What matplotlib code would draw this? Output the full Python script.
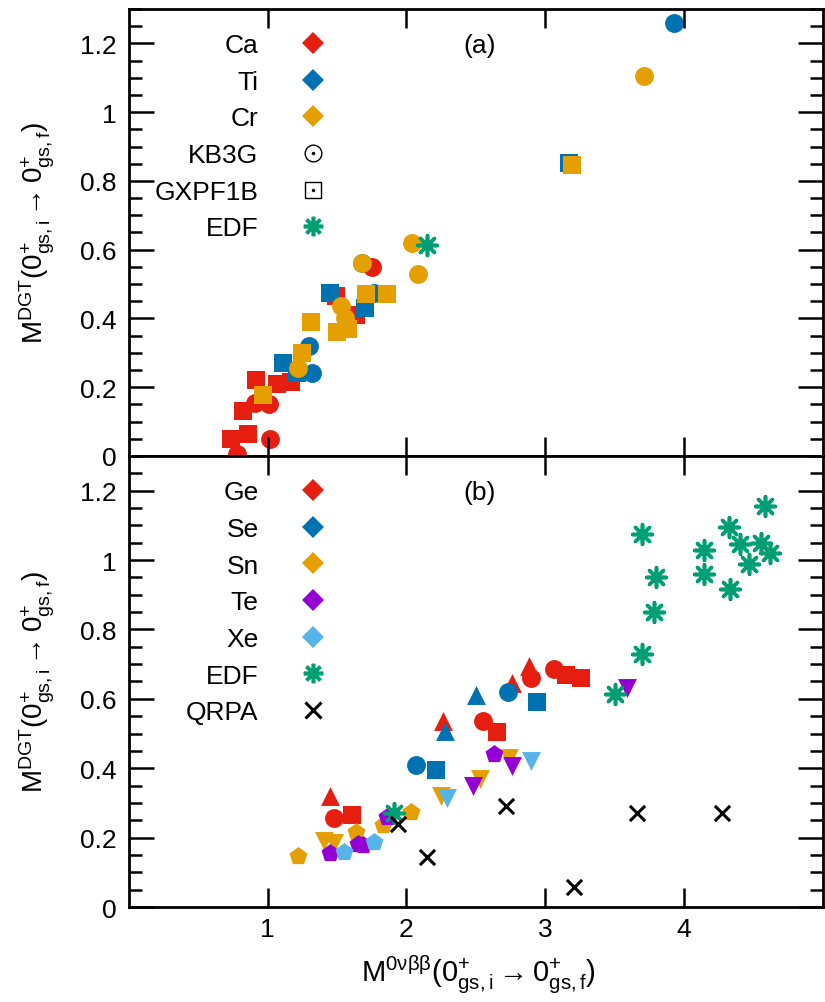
import matplotlib
matplotlib.use("Agg")
import matplotlib.pyplot as plt
from matplotlib.lines import Line2D
from matplotlib.ticker import MultipleLocator, FixedLocator, FuncFormatter

plt.rcParams['font.family'] = ['Liberation Sans', 'DejaVu Sans']
plt.rcParams['mathtext.fontset'] = 'custom'
plt.rcParams['mathtext.rm'] = 'Liberation Sans'
plt.rcParams['mathtext.it'] = 'Liberation Sans:italic'
plt.rcParams['mathtext.bf'] = 'Liberation Sans:bold'
plt.rcParams['mathtext.sf'] = 'Liberation Sans'

red = '#e51e10'
blue = '#0072b2'
orange = '#e69f00'
purple = '#9400d3'
lblue = '#56b4e9'
green = '#009e73'

# ---- panel (a) data ----
ca_kb3g_x = [0.78, 1.02, 0.91, 1.01, 1.75]
ca_kb3g_y = [0.005, 0.05, 0.155, 0.15, 0.55]
ca_gx_x = [0.74, 0.86, 0.82, 0.92, 1.07, 1.17, 1.49, 1.64]
ca_gx_y = [0.05, 0.065, 0.13, 0.22, 0.21, 0.215, 0.465, 0.41]
ti_kb3g_x = [1.30, 1.32, 1.77, 1.68, 3.93]
ti_kb3g_y = [0.32, 0.24, 0.475, 0.56, 1.26]
ti_gx_x = [1.11, 1.21, 1.45, 1.70, 3.17]
ti_gx_y = [0.27, 0.24, 0.475, 0.43, 0.852]
cr_kb3g_x = [1.22, 1.53, 1.56, 1.68, 2.08, 2.04, 3.71]
cr_kb3g_y = [0.255, 0.435, 0.40, 0.56, 0.53, 0.62, 1.105]
cr_gx_x = [0.97, 1.25, 1.31, 1.50, 1.58, 1.71, 1.86, 3.19]
cr_gx_y = [0.177, 0.30, 0.39, 0.36, 0.37, 0.47, 0.47, 0.845]
edf_a_x = [2.15]
edf_a_y = [0.615]

# ---- panel (b) data ----
ge_tri_x = [1.45, 2.26, 2.76, 2.88]
ge_tri_y = [0.32, 0.535, 0.645, 0.695]
ge_circ_x = [1.48, 2.55, 2.90, 3.06]
ge_circ_y = [0.258, 0.535, 0.66, 0.687]
ge_sq_x = [1.61, 2.65, 3.15, 3.26]
ge_sq_y = [0.265, 0.505, 0.67, 0.66]
se_tri_x = [2.28, 2.50]
se_tri_y = [0.507, 0.61]
se_circ_x = [2.07, 2.73]
se_circ_y = [0.41, 0.62]
se_sq_x = [2.21, 2.94]
se_sq_y = [0.395, 0.59]
sn_pent_x = [1.22, 1.64, 1.83, 2.03]
sn_pent_y = [0.148, 0.217, 0.235, 0.275]
sn_tdn_x = [1.41, 1.48, 2.25, 2.53, 2.74]
sn_tdn_y = [0.19, 0.185, 0.32, 0.37, 0.43]
te_pent_x = [1.45, 1.65, 1.69, 1.86, 2.63]
te_pent_y = [0.155, 0.183, 0.18, 0.26, 0.44]
te_tdn_x = [2.48, 2.76, 3.59]
te_tdn_y = [0.35, 0.405, 0.63]
xe_pent_x = [1.55, 1.77]
xe_pent_y = [0.16, 0.188]
xe_tdn_x = [2.29, 2.90]
xe_tdn_y = [0.313, 0.42]
edf_b_x = [3.70, 4.58, 4.32, 4.14, 4.40, 4.55, 4.62, 4.47, 4.14, 4.33, 3.80, 3.78, 3.70, 3.50, 1.91]
edf_b_y = [1.075, 1.157, 1.096, 1.029, 1.047, 1.049, 1.02, 0.988, 0.96, 0.916, 0.95, 0.85, 0.728, 0.615, 0.27]
qrpa_x = [1.94, 2.15, 2.72, 3.66, 4.27, 3.21]
qrpa_y = [0.24, 0.145, 0.29, 0.272, 0.272, 0.058]

S = 185
star = (8, 2, 0)

fig = plt.figure(figsize=(8.25, 10.03), dpi=100)
ax1 = fig.add_axes([0.156, 0.5444, 0.8416, 0.4456])
ax2 = fig.add_axes([0.156, 0.0947, 0.8416, 0.4497])

# panel (a)
ax1.scatter(ca_gx_x, ca_gx_y, marker='s', s=S, color=red, linewidths=0)
ax1.scatter(ca_kb3g_x, ca_kb3g_y, marker='o', s=S, color=red, linewidths=0)
ax1.scatter(ti_gx_x, ti_gx_y, marker='s', s=S, color=blue, linewidths=0)
ax1.scatter(ti_kb3g_x, ti_kb3g_y, marker='o', s=S, color=blue, linewidths=0)
ax1.scatter(cr_gx_x, cr_gx_y, marker='s', s=S, color=orange, linewidths=0)
ax1.scatter(cr_kb3g_x, cr_kb3g_y, marker='o', s=S, color=orange, linewidths=0)
ax1.scatter(edf_a_x, edf_a_y, marker=star, s=200, color=green, linewidths=2.6)

# panel (b)
for xs, ys, m, c in [(ge_tri_x, ge_tri_y, '^', red), (ge_circ_x, ge_circ_y, 'o', red),
                     (ge_sq_x, ge_sq_y, 's', red), (se_tri_x, se_tri_y, '^', blue),
                     (se_circ_x, se_circ_y, 'o', blue), (se_sq_x, se_sq_y, 's', blue),
                     (sn_pent_x, sn_pent_y, 'p', orange), (sn_tdn_x, sn_tdn_y, 'v', orange),
                     (te_pent_x, te_pent_y, 'p', purple), (te_tdn_x, te_tdn_y, 'v', purple),
                     (xe_pent_x, xe_pent_y, 'p', lblue), (xe_tdn_x, xe_tdn_y, 'v', lblue)]:
    ax2.scatter(xs, ys, marker=m, s=S, color=c, linewidths=0)
ax2.scatter(edf_b_x, edf_b_y, marker=star, s=200, color=green, linewidths=2.6)
ax2.scatter(qrpa_x, qrpa_y, marker='x', s=120, color='black', linewidths=2.2)

fmt = FuncFormatter(lambda v, p: '%g' % round(v, 2))
ylab = r'$\mathrm{M^{DGT}(0^{+}_{gs,i}\rightarrow 0^{+}_{gs,f})}$'
for ax in (ax1, ax2):
    ax.set_xlim(0, 5)
    ax.set_ylim(0, 1.3)
    ax.xaxis.set_major_locator(FixedLocator([1, 2, 3, 4]))
    ax.yaxis.set_major_locator(MultipleLocator(0.2))
    ax.yaxis.set_minor_locator(MultipleLocator(0.05))
    ax.yaxis.set_major_formatter(fmt)
    ax.tick_params(which='both', direction='in', top=True, right=True, width=1.8, labelsize=19)
    ax.tick_params(axis='y', which='major', length=18, pad=9)
    ax.tick_params(axis='y', which='minor', length=9.5)
    ax.tick_params(axis='x', which='major', length=14, pad=7)
    for sp in ax.spines.values():
        sp.set_linewidth(2)
    ax.set_ylabel(ylab, fontsize=20)
    ax.yaxis.set_label_coords(-0.103, 0.5)
ax1.tick_params(labelbottom=False)
ax2.set_xlabel(r'$\mathrm{M^{0νββ}(0^{+}_{gs,i}\rightarrow 0^{+}_{gs,f})}$', fontsize=21)
ax2.xaxis.set_label_coords(0.503, -0.1)

ax1.text(0.506, 0.92, '(a)', transform=ax1.transAxes, ha='center', va='center', fontsize=19)
ax2.text(0.506, 0.92, '(b)', transform=ax2.transAxes, ha='center', va='center', fontsize=19)

def dia(c):
    return Line2D([], [], ls='none', marker='D', ms=11.7, color=c, mew=0)

dot = Line2D([], [], ls='none', marker='o', ms=2.5, color='black', mew=0)
kb3g = (Line2D([], [], ls='none', marker='o', ms=12, mfc='none', mec='black', mew=1.0), dot)
gxpf = (Line2D([], [], ls='none', marker='s', ms=11, mfc='none', mec='black', mew=1.0), dot)
edf_h = Line2D([], [], ls='none', marker=star, ms=14, color=green, mew=2.6)
qrpa_h = Line2D([], [], ls='none', marker='x', ms=11, color='black', mew=2.2)

leg_kw = dict(frameon=False, markerfirst=False, fontsize=19, loc='upper right',
              handlelength=1.0, handletextpad=1.55, labelspacing=0.48,
              borderpad=0, borderaxespad=0)
ax1.legend([dia(red), dia(blue), dia(orange), kb3g, gxpf, edf_h],
           ['Ca', 'Ti', 'Cr', 'KB3G', 'GXPF1B', 'EDF'],
           bbox_to_anchor=(0.284, 0.946), **leg_kw)
ax2.legend([dia(red), dia(blue), dia(orange), dia(purple), dia(lblue), edf_h, qrpa_h],
           ['Ge', 'Se', 'Sn', 'Te', 'Xe', 'EDF', 'QRPA'],
           bbox_to_anchor=(0.284, 0.946), **leg_kw)

fig.savefig('out.png', dpi=100)
